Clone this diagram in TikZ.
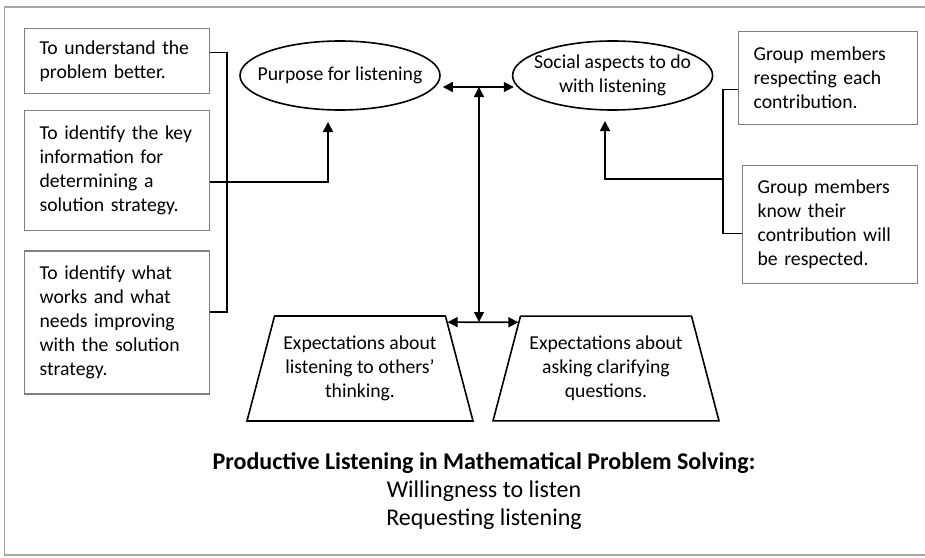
\documentclass[tikz,border=0pt]{standalone}
\usepackage{fontspec}
\setmainfont{Carlito}
\usetikzlibrary{arrows.meta,positioning,shapes.geometric}
\tikzset{sidebox/.style={draw=black!50,line width=1.2pt,anchor=north west,text width=155pt,inner xsep=15pt,inner ysep=0pt,align=left,minimum height=#1,font=\fontsize{19.7}{24}\selectfont}}
\tikzset{oval/.style={ellipse,draw,line width=1.6pt,minimum width=200pt,minimum height=69pt,inner xsep=-14pt,inner ysep=0pt,align=center,font=\fontsize{19.7}{24.5}\selectfont}}
\tikzset{trap/.style={trapezium,trapezium stretches body,trapezium left angle=75.3,trapezium right angle=75.3,minimum width=226pt,inner xsep=0pt,inner ysep=20pt,draw,line width=1.6pt,align=center,font=\fontsize{19.7}{24}\selectfont}}

\begin{document}
\begin{tikzpicture}[x=1pt,y=-1pt]
	\tikzstyle{link}=[line width=1.6pt]
	\tikzstyle{arr}=[line width=1.6pt,-{Triangle[length=10pt,width=10pt]}]
	\tikzstyle{dbl}=[line width=1.6pt,{Triangle[length=10pt,width=10pt]}-{Triangle[length=10pt,width=10pt]}]
	\useasboundingbox (0,0) rectangle (925,557);
	\draw[black!35,line width=1.2pt] (930,7) -- (4.5,7) -- (4.5,555) -- (930,555);

	% purposes on the left
	\node[sidebox=65pt] (lb1) at (24,28) {To understand the\\problem better.};
	\node[sidebox=120pt,below=16pt of lb1] (lb2) {To identify the key\\information for\\determining a\\solution strategy.};
	\node[sidebox=143pt,below=19pt of lb2] (lb3) {To identify what\\works and what\\needs improving\\with the solution\\strategy.};

	% social aspects on the right
	\node[sidebox=93pt,text width=149pt] (rb1) at (738,31) {Group members\\respecting each\\contribution.};
	\node[sidebox=118pt,text width=145pt] (rb2) at (742,165) {Group members\\know their\\contribution will\\be respected.};

	\node[oval] (purpose) at (340,75.5) {Purpose for listening};
	\node[oval,right=71pt of purpose] (social) {Social aspects to do\\with listening};

	\node[trap] (exp1) at (360,368.5) {Expectations about\\listening to others’\\thinking.};
	\node[trap] (exp2) at (606,368.5) {Expectations about\\asking clarifying\\questions.};

	\node[font=\fontsize{24}{28}\selectfont,align=center] (title) at (484,491)
		{\textbf{Productive Listening in Mathematical Problem Solving:}\\Willingness to listen\\Requesting listening};

	\coordinate (pin) at (328,122);
	\coordinate (sin) at (605,121);
	\coordinate (rjoin) at (723,179);
	\coordinate (jt) at (479,87);
	\coordinate (jb) at (479,322);

	\draw[link] ([yshift=8.5pt]lb1.east) -- ++(17,0) |- ([yshift=10.5pt]lb3.east);
	\draw[arr] ([yshift=-11pt]lb2.east) -| (pin);
	\draw[link] ([yshift=-11.5pt]rb1.west) -- ++(-15,0) |- ([yshift=-9pt]rb2.west);
	\draw[arr] (rjoin) -| (sin);

	\draw[dbl] ([shift={(2,11.5)}]purpose.east) -- ([shift={(2,11.5)}]social.west);
	\draw[dbl] (jt) -- (jb);
	\draw[dbl] ([shift={(1.5,7)}]exp1.top right corner) -- ([shift={(-1.5,7)}]exp2.top left corner);
\end{tikzpicture}
\end{document}
